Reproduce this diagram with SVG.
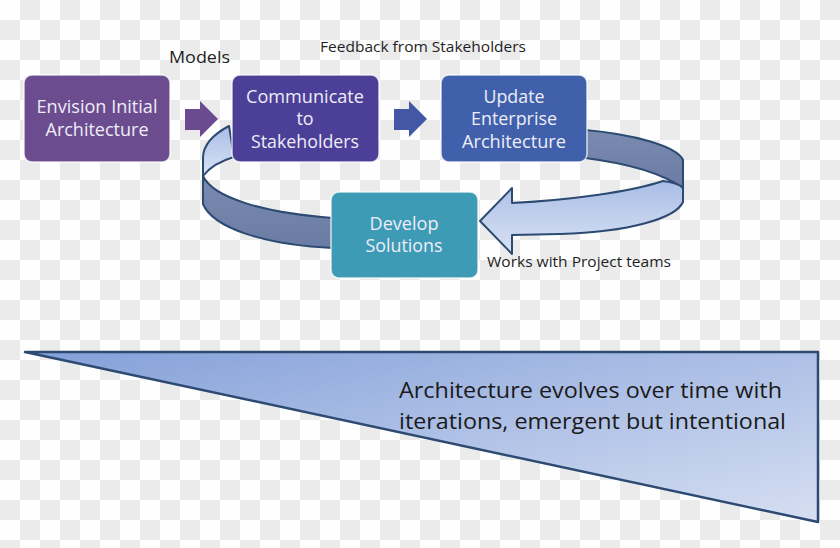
<svg xmlns="http://www.w3.org/2000/svg" width="840" height="548" viewBox="0 0 840 548">
<defs>
<pattern id="checker" x="0" y="0" width="40" height="40" patternUnits="userSpaceOnUse">
<rect width="40" height="40" fill="#fefefe"/>
<rect x="20" y="0" width="20" height="20" fill="#ebebeb"/>
<rect x="0" y="20" width="20" height="20" fill="#ebebeb"/>
</pattern>
<linearGradient id="lightFace" x1="0" y1="0" x2="0" y2="1">
<stop offset="0" stop-color="#a9bde5"/>
<stop offset="1" stop-color="#dae3f5"/>
</linearGradient>
<linearGradient id="darkFace" x1="0" y1="0" x2="0" y2="1">
<stop offset="0" stop-color="#7a8ab0"/>
<stop offset="1" stop-color="#6b7ca4"/>
</linearGradient>
<linearGradient id="triFill" x1="0" y1="0" x2="1" y2="1">
<stop offset="0" stop-color="#84a0d9"/>
<stop offset="1" stop-color="#d6dff2"/>
</linearGradient>
<style>
.box{stroke:#ffffff;stroke-opacity:0.75;stroke-width:1.5}
.bt{font-family:"Open Sans","Liberation Sans",sans-serif;font-size:18px;fill:#eeedf7;text-anchor:middle}
.lbl{font-family:"Open Sans","Liberation Sans",sans-serif;fill:#1e1e1e}
.rib{stroke:#2c4a72;stroke-width:2;stroke-linejoin:round}
.big{font-family:"Open Sans","Liberation Sans",sans-serif;font-size:22px;fill:#1a1a1a}
</style>
</defs>
<rect width="840" height="548" fill="url(#checker)"/>

<g id="connectors">
<path class="rib" fill="url(#lightFace)" d="M 229,126 C 212,135 203,146 203,158 L 203,176 C 210,167 220,161 234,157 Z"/>
<path class="rib" fill="url(#darkFace)" d="M 203,176 C 213,198 265,213 333,218 L 333,248 C 265,245 213,228 203,204 Z"/>
<path class="rib" fill="url(#darkFace)" d="M 585,130 C 632,134 677,146 683,160 L 683,188 C 660,172 625,163 585,158 Z"/>
<path class="rib" fill="url(#lightFace)" d="M 683,188 L 683,202 C 676,218 630,232 560,234 L 512,235 L 512,254 L 480,221 L 512,188 L 512,203 C 570,200 630,192 663,181 C 672,182 680,185 683,188 Z"/>
<polygon fill="#6a4b90" points="185,109 200,109 200,101 218,119 200,137 200,130 185,130"/>
<polygon fill="#4257a6" points="394,109 409,109 409,101 427,119 409,137 409,130 394,130"/>
</g>

<g id="envision">
<rect class="box" x="24" y="75" width="146" height="87" rx="8" fill="#6b4c8e"/>
<text class="bt" x="97" y="113" textLength="121" lengthAdjust="spacingAndGlyphs">Envision Initial</text>
<text class="bt" x="97" y="136" textLength="103" lengthAdjust="spacingAndGlyphs">Architecture</text>
</g>

<g id="communicate">
<rect class="box" x="232" y="75" width="147" height="87" rx="8" fill="#4c3f98"/>
<text class="bt" x="305" y="103" textLength="118" lengthAdjust="spacingAndGlyphs">Communicate</text>
<text class="bt" x="305" y="125">to</text>
<text class="bt" x="305" y="148" textLength="108" lengthAdjust="spacingAndGlyphs">Stakeholders</text>
</g>

<g id="update">
<rect class="box" x="441" y="75" width="146" height="87" rx="8" fill="#4060ab"/>
<text class="bt" x="514" y="103" textLength="61" lengthAdjust="spacingAndGlyphs">Update</text>
<text class="bt" x="514" y="125" textLength="86" lengthAdjust="spacingAndGlyphs">Enterprise</text>
<text class="bt" x="514" y="148" textLength="104" lengthAdjust="spacingAndGlyphs">Architecture</text>
</g>

<g id="develop">
<rect class="box" x="331" y="192" width="147" height="86" rx="8" fill="#3e9bb5"/>
<text class="bt" x="404" y="230" textLength="69" lengthAdjust="spacingAndGlyphs" fill="#e6f3f8">Develop</text>
<text class="bt" x="404" y="252" textLength="77" lengthAdjust="spacingAndGlyphs" fill="#e6f3f8">Solutions</text>
</g>

<g id="labels">
<text class="lbl" x="169" y="63" font-size="17" textLength="61" lengthAdjust="spacingAndGlyphs">Models</text>
<text class="lbl" x="320" y="52" font-size="14" textLength="206" lengthAdjust="spacingAndGlyphs">Feedback from Stakeholders</text>
<text class="lbl" x="487" y="267" font-size="14" textLength="184" lengthAdjust="spacingAndGlyphs">Works with Project teams</text>
</g>

<g id="evolution">
<polygon points="25,352 818,352 818,522" fill="url(#triFill)" stroke="#2c4a72" stroke-width="2.5" stroke-linejoin="round"/>
<text class="big" x="399" y="398" textLength="383" lengthAdjust="spacingAndGlyphs">Architecture evolves over time with</text>
<text class="big" x="399" y="429" textLength="387" lengthAdjust="spacingAndGlyphs">iterations, emergent but intentional</text>
</g>
</svg>
